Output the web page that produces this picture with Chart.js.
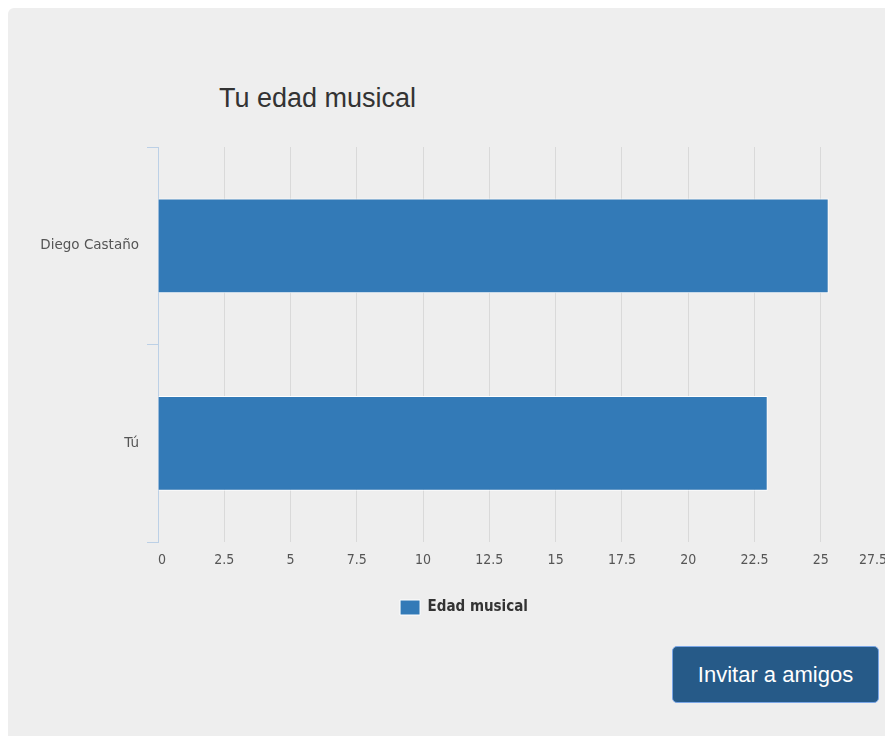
<!DOCTYPE html>
<html>
<head>
<meta charset="utf-8">
<script src="https://cdn.jsdelivr.net/npm/chart.js@4/dist/chart.umd.min.js"></script>
<style>
  html, body { margin: 0; padding: 0; background: #fff; overflow: hidden; }
  #panel {
    position: absolute; left: 8px; top: 8px; width: 900px; height: 760px;
    background: #eeeeee; border-radius: 6px;
  }
  #title {
    position: absolute; left: 219px; top: 82px; line-height: 32px;
    font-family: "Liberation Sans", Arial, sans-serif; font-size: 27px; color: #333;
  }
  #chart { position: absolute; left: 8px; top: 120px; }
  #invite {
    position: absolute; left: 672px; top: 646px; width: 207px; height: 57px;
    box-sizing: border-box; background: #265a88; color: #fff;
    border: 1px solid #7aa6e6; border-radius: 5px;
    font-family: "Liberation Sans", Arial, sans-serif; font-size: 22px;
  }
</style>
</head>
<body>
<div id="panel"></div>
<div id="title">Tu edad musical</div>
<canvas id="chart" width="912" height="505"></canvas>
<button id="invite">Invitar a amigos</button>
<script>
// datos del gráfico
const personas = ["Diego Castaño", "Tú"];
const edadMusical = [25.3, 23.0];
const serieNombre = "Edad musical";
const ejeMin = 0;
const ejeMax = 27.5;
const ejePaso = 2.5;

const tickFont = { family: "'Liberation Sans Narrow', 'DejaVu Sans Condensed', sans-serif", size: 14 };

new Chart(document.getElementById("chart"), {
  type: "bar",
  data: {
    labels: personas,
    datasets: [{
      label: serieNombre,
      data: edadMusical,
      backgroundColor: "#337ab7",
      borderColor: "#ffffff",
      borderWidth: 1,
      categoryPercentage: 0.8,
      barPercentage: 0.6,
    }],
  },
  options: {
    indexAxis: "y",
    responsive: false,
    devicePixelRatio: 1,
    animation: false,
    layout: { padding: { top: 27, right: 33, bottom: 0, left: 33 } },
    scales: {
      x: {
        min: ejeMin,
        max: ejeMax,
        border: { display: false },
        grid: { color: "#d9d9d9", drawTicks: false },
        ticks: {
          stepSize: ejePaso,
          padding: 10,
          align: "inner",
          color: "#555",
          font: tickFont,
          callback: (v) => String(v),
        },
      },
      y: {
        border: { display: true, color: "#bcd0e6" },
        grid: { drawOnChartArea: false, color: "#bcd0e6", tickLength: 11 },
        ticks: {
          padding: 8,
          color: "#555",
          font: { family: "'DejaVu Sans', sans-serif", size: 13.5 },
        },
        // ancho fijo para que el área empiece en el mismo sitio
        afterFit: (scale) => { scale.width = 117; },
      },
    },
    plugins: {
      legend: {
        position: "bottom",
        labels: {
          boxWidth: 20,
          boxHeight: 15,
          padding: 21,
          color: "#333",
          font: { family: "'DejaVu Sans Condensed', 'Liberation Sans Narrow', sans-serif", size: 15, weight: "bold" },
        },
      },
      tooltip: { enabled: false },
    },
  },
});
</script>
</body>
</html>
